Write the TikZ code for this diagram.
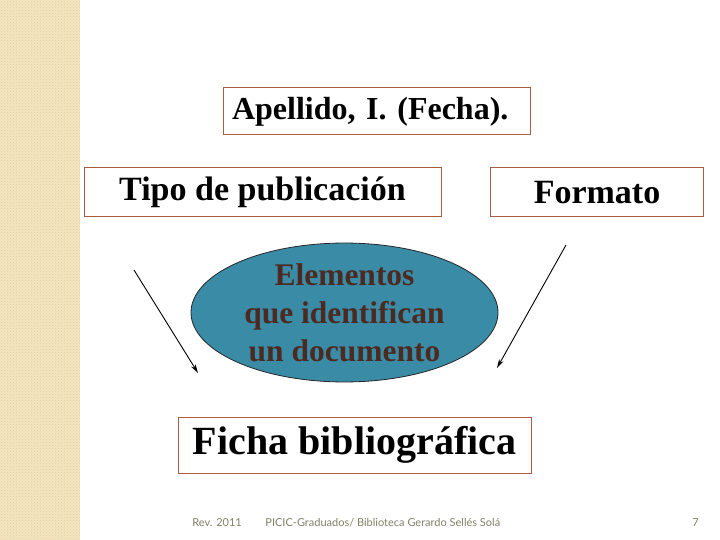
\documentclass[tikz,border=0pt]{standalone}
\usepackage{fontspec}
\setmainfont{Liberation Serif}
\newfontfamily\piefont{Lato}
\usepackage{tikz}
\usetikzlibrary{positioning, arrows, arrows.meta, shapes.geometric, patterns}
\usepackage{xcolor}
\definecolor{borde}{RGB}{168,92,64}
\definecolor{azulverde}{RGB}{58,140,166}
\definecolor{cafe}{RGB}{76,42,34}
\definecolor{beige}{RGB}{242,229,192}
\definecolor{beigeosc}{RGB}{228,208,160}
\definecolor{gristexto}{RGB}{130,128,104}

\begin{document}
\begin{tikzpicture}[->,>={Stealth[length=9pt,width=5pt]},line width=0.9pt,x=1pt,y=-1pt,
    caja/.style={rectangle,draw=borde,line width=1pt,inner sep=0pt,minimum height=49pt,font=\fontsize{34}{38}\selectfont\bfseries},
    elipse/.style={ellipse,draw=black!85,line width=0.8pt,fill=azulverde,text=cafe,align=center,inner sep=0pt,
      minimum width=307pt,minimum height=131pt,font=\fontsize{31.5}{38}\selectfont\bfseries},
    pie/.style={text=gristexto,inner sep=0pt,anchor=west,font=\piefont\fontsize{11}{13}\selectfont}]

      \useasboundingbox (0,0) rectangle (720,540);
      \fill[white] (0,0) rectangle (720,540);
      \fill[beige] (0,0) rectangle (80,540);
      \fill[pattern=crosshatch dots,pattern color=beigeosc] (0,0) rectangle (80,540);

      \node[caja,minimum width=307pt,minimum height=47pt,inner xsep=9pt,text width=289pt,align=left,
            font=\fontsize{32}{36}\selectfont\bfseries] (apellido) at (376.5,111.5) {Apellido, I. (Fecha).};
      \node[caja,minimum width=357pt] (tipo) at (262.5,192.5) {Tipo de publicación};
      \node[caja,minimum width=213pt] (formato) [right of=tipo, node distance=334.5pt] {Formato};
      \node[elipse] (elementos) at (344.5,312.5) {Elementos\\que identifican\\un documento};
      \node[caja,minimum width=353pt,minimum height=56pt,font=\fontsize{40}{44}\selectfont\bfseries] (ficha) at (354.5,445) {Ficha bibliográfica};

      \coordinate (izqA) at (134,270);
      \coordinate (izqB) at (198,373);
      \coordinate (derA) at (566,245);
      \coordinate (derB) at (497,368);

      \path (izqA) edge (izqB)
            (derA) edge (derB)
            ;

      \node[pie] (rev) at (192,523) {Rev. 2011};
      \node[pie] (autor) at (265,523) {PICIC-Graduados/ Biblioteca Gerardo Sellés Solá};
      \node[pie] (pagina) at (692,523) {7};
    \end{tikzpicture}
\end{document}
